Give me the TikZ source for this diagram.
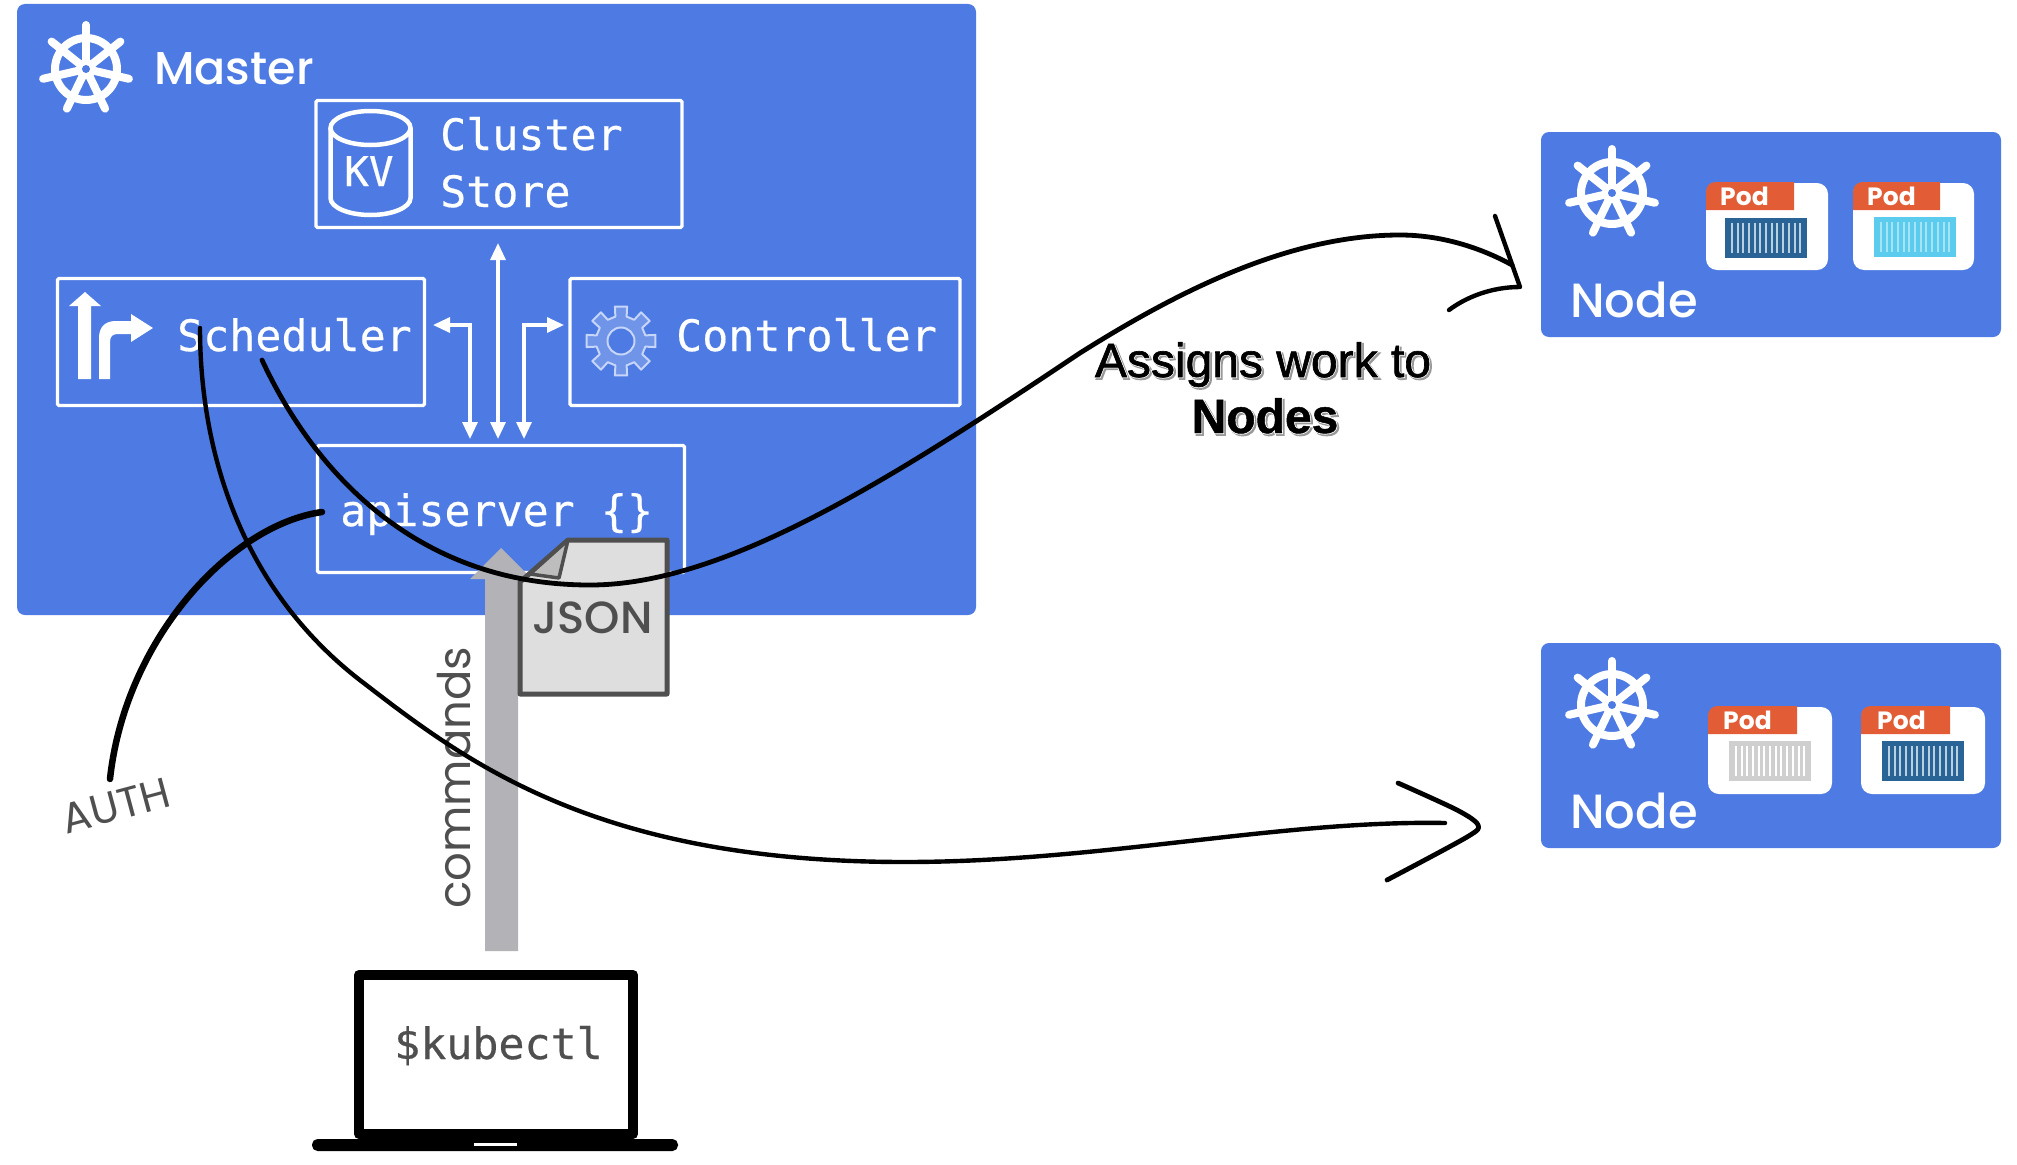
\documentclass[tikz,border=0pt]{standalone}
\usepackage{fontspec}
\usetikzlibrary{arrows.meta}
\newfontfamily\monof[FakeBold=0.4]{DejaVu Sans Mono}
\newfontfamily\popf{Poppins}
\newfontfamily\popmed{Poppins Medium}
\newfontfamily\arialf{Liberation Sans}
\newfontfamily\arialhalo[FakeBold=4.5]{Liberation Sans}
\newfontfamily\arialbhalo[FakeBold=4.5]{Liberation Sans Bold}
\newfontfamily\arialtext[FakeBold=1.4]{Liberation Sans}
\newfontfamily\arialbold[FakeBold=1]{Liberation Sans Bold}
\definecolor{kblue}{HTML}{4D7BE3}
\definecolor{podred}{HTML}{E25D35}
\definecolor{ink}{HTML}{4F4F4F}
\definecolor{pipe}{HTML}{B3B3B7}
\definecolor{gearfill}{HTML}{6F94E8}
\definecolor{gearline}{HTML}{C6D5F8}
\definecolor{cdark}{HTML}{2A6496}
\definecolor{cdarkl}{HTML}{B8D0E0}
\definecolor{ccyan}{HTML}{5BCBEE}
\definecolor{ccyanl}{HTML}{A5E4F5}
\definecolor{cgrey}{HTML}{CFCFCF}
\newcommand{\fs}[1]{\fontsize{#1}{#1}\selectfont}
\newcommand{\halo}[2]{\rlap{\color{gray!80}\raisebox{-1.8pt}{\kern1.8pt#1#2}}\rlap{\color{white}#1#2}}
\tikzset{
  x=1pt,y=-1pt,
  panel/.style={fill=kblue,rounded corners=8pt,draw=none},
  compbox/.style={draw=white,line width=3.2pt,rounded corners=1.5pt,fill=none,inner sep=0pt},
  monotext/.style={text=white,anchor=base west,inner sep=0pt,font=\monof\fs{43.3}},
  wire/.style={draw=white,line width=3.2pt},
  wirehead2/.style={{Triangle[width=15pt,length=17pt]}-{Triangle[width=15pt,length=17pt]}},
  freehand/.style={draw=black,line cap=round,line join=round,line width=4.4pt},
  nodetitle/.style={text=white,anchor=base west,inner sep=0pt,font=\popmed\fs{48}},
  podtext/.style={text=white,anchor=base west,inner sep=0pt,font=\popf\bfseries\fs{25}},
  pics/wheel/.style={code={
    \draw[white,line width=8pt] (0,0) circle (31);
    \foreach \k in {0,...,6}{
      \draw[white,line width=8pt,line cap=round] (0,0) -- (270+\k*51.43:44);
    }
    \fill[white] (0,0) circle (10);
    \fill[kblue] (0,0) circle (4);
  }},
  pics/box/.style args={#1/#2}{code={
    \fill[#1] (-40,-19) rectangle (40,19);
    \draw[#1,line width=1.5pt] (-40,-19) rectangle (40,19);
    \foreach \k in {-6,...,6}{
      \draw[#2,line width=2pt] (\k*5.7,-15) -- (\k*5.7,15);
    }
  }},
  pics/pod/.style args={#1/#2}{code={
    \fill[white,rounded corners=11pt] (0,1) rectangle (#1,88);
    \fill[podred] (0,28) -- (0,10) .. controls (0,4) and (4,0) .. (10,0) -- (#2,0) -- (#2,28) -- cycle;
  }},
}
\begin{document}
\begin{tikzpicture}
\useasboundingbox[fill=white] (0,0) rectangle (2017,1164);

% master panel
\path[panel] (17,4) rectangle (976,615);
\pic at (86,69) {wheel};
\node[text=white,anchor=base west,inner sep=0pt,font=\popmed\fs{46}] (mastertext) at (154,84) {Master};

% component boxes
\node[compbox,minimum width=366pt,minimum height=127pt] (cluster) at (499,164) {};
\node[compbox,minimum width=367pt,minimum height=127pt] (sched) at (241,342) {};
\node[compbox,minimum width=390pt,minimum height=127pt] (ctrl) at (765,342) {};
\node[compbox,minimum width=367pt,minimum height=127pt] (api) at (501,509) {};

\node[monotext] (clustertext) at (440,150) {Cluster};
\node[monotext] (storetext) at (440,207) {Store};
\node[monotext] (schedtext) at (177,351) {Scheduler};
\node[monotext] (ctrltext) at (676,351) {Controller};
\node[monotext] (apitext) at (340,526) {apiserver \{\}};

% KV cylinder
\draw[white,line width=4.5pt] (330.5,128) -- (330.5,198) arc[start angle=180,end angle=0,x radius=40,y radius=17] -- (410.5,128);
\draw[white,line width=4.5pt] (370.5,128) ellipse[x radius=40,y radius=17];
\node[monotext,font=\monof\fs{41}] (kvtext) at (344,186) {KV};

% scheduler icon
\fill[white] (78,379) -- (78,306) -- (69,306) -- (85,292) -- (101,306) -- (91,306) -- (91,379) -- cycle;
\fill[white] (99,379) -- (99,338) .. controls (99,327) and (105,321) .. (116,321) -- (131,321) -- (131,314) -- (153,328) -- (131,342) -- (131,334) -- (118,334) .. controls (113,334) and (110,336) .. (110,342) -- (110,379) -- cycle;

% gear
\begin{scope}[shift={(621,341)}]
\draw[gearline,fill=gearfill,line width=2pt,line join=round]
  (-103:25)
  \foreach \a in {-90,-45,0,45,90,135,180,225}{
    -- (\a-13:25) -- (\a-10:35) -- (\a+10:35) -- (\a+13:25)
  } -- cycle;
\draw[gearline,fill=kblue,line width=2pt] (0,0) circle (13.5);
\end{scope}

% white arrows
\coordinate (lt) at (470,325);
\coordinate (rt) at (524,325);
\draw[wire,wirehead2] (498,243) -- (498,439);
\draw[wire,wirehead2] (433,325) -- (lt) -- (470,439);
\draw[wire,wirehead2] (524,439) -- (rt) -- (564,325);

% commands pipe
\fill[pipe] (485,951) -- (485,579) -- (470,579) -- (501,548) -- (532,579) -- (518,579) -- (518,951) -- cycle;
\node[rotate=90,anchor=base west,text=ink,inner sep=0pt,font=\popf\fs{45}] (commands) at (470,909) {commands};

% json doc
\draw[fill=black!13,draw=ink,line width=5pt,line join=round] (568,540) -- (667,540) -- (667,694) -- (520,694) -- (520,582) -- cycle;
\draw[fill=black!26,draw=ink,line width=3.5pt,line join=round] (568,540) -- (559,578) -- (530,574) -- cycle;
\node[anchor=base west,text=ink,inner sep=0pt,font=\popmed\fs{45}] (json) at (532,633) {JSON};

% AUTH
\node[rotate=15,text=ink,inner sep=0pt,font=\popf\fs{42.5}] (auth) at (116,806) {AUTH};

% laptop
\draw[black,line width=10pt,line join=round,fill=white] (359,975) rectangle (633,1134);
\fill[black,rounded corners=5.5pt] (312,1139) rectangle (678,1151);
\fill[white] (474,1142.5) rectangle (517,1146);
\node[anchor=base west,text=ink,inner sep=0pt,font=\monof\fs{43.3}] (kubectl) at (394,1059) {\$kubectl};

% nodes
\path[panel] (1541,132) rectangle (2001,337);
\path[panel] (1541,643) rectangle (2001,848);
\pic at (1612,193) {wheel};
\pic at (1612,705) {wheel};
\node[nodetitle] (nodeA) at (1570,317) {Node};
\node[nodetitle] (nodeB) at (1570,828) {Node};

% pods, node A
\pic at (1706,182) {pod={122/88}};
\node[podtext] (podA) at (1720,205) {Pod};
\pic at (1766,238) {box={cdark/cdarkl}};

\pic at (1853,182) {pod={121/87}};
\node[podtext] (podB) at (1867,205) {Pod};
\pic at (1915,237) {box={ccyan/ccyanl}};

% pods, node B
\pic at (1708,706) {pod={124/89}};
\node[podtext] (podC) at (1723,729) {Pod};
\pic at (1770,761) {box={cgrey/white}};

\pic at (1861,706) {pod={124/89}};
\node[podtext] (podD) at (1877,729) {Pod};
\pic at (1923,761) {box={cdark/cdarkl}};

% freehand connectors
\coordinate (s1) at (262,360);
\coordinate (s2) at (200,328);
\coordinate (t1) at (1512,265);
\coordinate (t2) at (1445,823);
\coordinate (ap) at (322,512);
\coordinate (au) at (110,779);
\draw[freehand,line width=4.8pt] (s1) .. controls (290,420) and (380,585) .. (590,585)
  .. controls (725,585) and (890,480) .. (1080,353)
  .. controls (1180,290) and (1290,235) .. (1400,235)
  .. controls (1445,235) and (1485,250) .. (t1);
\draw[freehand] (1495,216) -- (1520,287) .. controls (1490,287) and (1465,298) .. (1449,310);
\draw[freehand] (s2) .. controls (200,450) and (240,590) .. (365,684)
  .. controls (470,765) and (600,862) .. (905,862)
  .. controls (1100,862) and (1280,820) .. (t2);
\draw[freehand,line width=4.8pt] plot[smooth,tension=0.5] coordinates {(1398,783) (1457,810) (1478,825) (1467,837) (1387,880)};
\draw[freehand,line width=6.5pt] (ap) .. controls (230,525) and (125,640) .. (au);

% caption
\node[anchor=base,inner sep=0pt,font=\fs{48}] (assigns) at (1263,377) {\halo{\arialhalo}{Assigns work to}{\arialtext Assigns work to}};
\node[anchor=base,inner sep=0pt,font=\fs{48}] (nodestext) at (1265,433) {\halo{\arialbhalo}{Nodes}{\arialbold Nodes}};
\end{tikzpicture}
\end{document}
